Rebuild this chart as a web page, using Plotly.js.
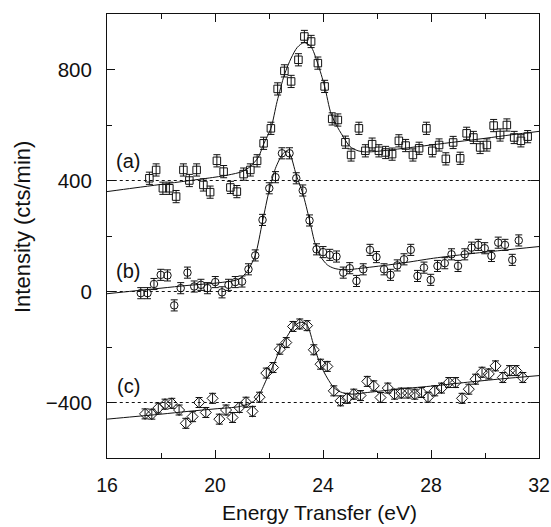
<!DOCTYPE html>
<html>
<head>
<meta charset="utf-8">
<script src="https://cdn.plot.ly/plotly-3.0.1.min.js"></script>
<style>html,body{margin:0;padding:0;background:#fff;}#chart{width:551px;height:527px;}</style>
</head>
<body>
<div id="chart"></div>
<script>
// Series (a): squares
var xA = [17.57,17.82,18.07,18.31,18.56,18.83,19.05,19.32,19.57,19.82,20.07,20.32,20.57,20.81,21.06,21.31,21.56,21.80,22.07,22.32,22.57,22.82,23.09,23.31,23.56,23.81,24.06,24.34,24.55,24.83,25.04,25.33,25.57,25.82,26.07,26.32,26.56,26.81,27.06,27.33,27.56,27.83,28.05,28.30,28.55,28.82,29.08,29.32,29.57,29.82,30.07,30.32,30.56,30.81,31.08,31.33,31.58];
var yA = [408,438,372,372,342,438,400,438,384,358,471,432,375,360,423,438,471,534,588,730,795,757,835,919,901,823,739,622,618,538,492,588,507,531,507,501,495,543,526,492,516,588,507,528,478,537,480,570,555,519,528,598,564,600,555,543,558];
// Series (b): circles
var xB = [17.25,17.50,17.74,17.99,18.24,18.49,18.73,18.98,19.23,19.48,19.72,20.01,20.26,20.50,20.75,21.0,21.24,21.49,21.76,22.01,22.24,22.48,22.76,23.01,23.25,23.50,23.76,24.0,24.25,24.50,24.75,24.99,25.24,25.49,25.74,25.98,26.26,26.50,26.75,27.0,27.25,27.50,27.74,27.99,28.24,28.51,28.76,29.0,29.25,29.50,29.75,29.99,30.24,30.49,30.74,31.01,31.25];
var yB = [-6,-6,27,60,58,-50,12,68,18,24,12,34,-3,24,34,36,80,130,258,372,412,498,498,408,364,256,152,142,132,126,68,84,38,80,150,124,80,60,94,116,150,56,86,42,92,102,134,92,134,158,168,156,128,176,168,114,184];
// Series (c): diamonds
var xC = [17.41,17.66,17.90,18.15,18.40,18.67,18.92,19.17,19.41,19.66,19.91,20.16,20.41,20.65,20.90,21.15,21.39,21.65,21.90,22.15,22.40,22.64,22.89,23.14,23.41,23.66,23.91,24.16,24.40,24.65,24.90,25.14,25.39,25.64,25.88,26.13,26.40,26.65,26.90,27.15,27.40,27.65,27.89,28.14,28.39,28.66,28.91,29.15,29.40,29.65,29.89,30.14,30.39,30.66,30.91,31.15,31.40];
var yC = [-441,-442,-420,-406,-403,-427,-475,-451,-400,-436,-385,-460,-427,-454,-418,-399,-432,-381,-294,-274,-208,-184,-126,-117,-123,-210,-262,-270,-358,-394,-385,-370,-375,-324,-340,-382,-348,-370,-366,-366,-370,-364,-381,-358,-348,-328,-328,-385,-352,-316,-291,-297,-268,-310,-285,-285,-310];

// Fit curves
var fitXA = [16,17,18,19,20,20.5,21,21.3,21.6,21.8,22.07,22.3,22.57,22.82,23.05,23.3,23.55,23.8,24.06,24.3,24.55,24.8,25.0,25.3,25.6,26,27,28,29,30,31,32];
var fitYA = [360,373,386,399,412,420,432,450,483,531,588,685,781,841,880,897,883,823,739,640,590,550,522,507,503,505,516,528,540,552,565,577];
var fitXB = [16,17,18,19,20,20.5,20.75,21.0,21.24,21.49,21.76,22.01,22.24,22.48,22.62,22.76,23.01,23.25,23.5,23.72,23.91,24.16,24.4,24.77,25.6,26.9,28.1,29.35,30.6,32];
var fitYB = [-8,2,12,22,30,36,40,52,80,130,252,366,444,492,505,498,420,354,258,168,126,96,84,78,86,102,120,135,148,162];
var fitXC = [16,17,18,19,20,20.94,21.43,21.65,21.93,22.17,22.42,22.67,22.92,23.16,23.4,23.66,23.91,24.16,24.4,24.65,25.02,25.64,26.88,28.11,29.35,30.59,32];
var fitYC = [-460,-451,-442,-432,-423,-414,-396,-370,-312,-264,-204,-162,-126,-111,-120,-195,-265,-312,-346,-362,-370,-364,-351,-340,-327,-315,-303];

var baselines = [400, 0, -400];
var labels = ['(a)', '(b)', '(c)'];
var labelY = [470, 73, -340];
var errA = 22, errB = 20, errC = 18;

var ink = '#111';
function pts(x, y, sym, sz, err) {
  return {x: x, y: y, type: 'scatter', mode: 'markers',
    marker: {symbol: sym, size: sz, color: ink, line: {color: ink, width: 1}},
    error_y: {type: 'constant', value: err, color: ink, thickness: 1, width: 3.5},
    showlegend: false, hoverinfo: 'x+y'};
}
function fit(x, y) {
  return {x: x, y: y, type: 'scatter', mode: 'lines',
    line: {color: ink, width: 1, shape: 'spline', smoothing: 0.8},
    showlegend: false, hoverinfo: 'skip'};
}
var data = [fit(fitXA, fitYA), fit(fitXB, fitYB), fit(fitXC, fitYC),
  pts(xA, yA, 'square-open', 7.5, errA), pts(xB, yB, 'circle-open', 7.5, errB), pts(xC, yC, 'diamond-open', 8.5, errC)];

var shapes = baselines.map(function (b) {
  return {type: 'line', xref: 'x', yref: 'y', x0: 16.25, x1: 32, y0: b, y1: b,
    line: {color: ink, width: 1, dash: 'dot'}, layer: 'below'};
});
var fontFam = 'Liberation Sans, Arial, Helvetica, sans-serif';
var annotations = labels.map(function (t, i) {
  return {text: t, x: 16.78, y: labelY[i], xref: 'x', yref: 'y', showarrow: false,
    xanchor: 'center', yanchor: 'middle', font: {family: fontFam, size: 20, color: ink}};
});
annotations.push({text: 'Intensity (cts/min)', xref: 'paper', yref: 'paper', x: -0.197, y: 0.52,
  textangle: -90, showarrow: false, xanchor: 'center', yanchor: 'middle',
  font: {family: fontFam, size: 22, color: ink}});
annotations.push({text: 'Energy Transfer (eV)', xref: 'paper', yref: 'paper', x: 0.493, y: -0.122,
  showarrow: false, xanchor: 'center', yanchor: 'middle',
  font: {family: fontFam, size: 21, color: ink}});

var axisCommon = {showline: true, linecolor: ink, linewidth: 1, mirror: 'ticks', ticks: 'inside',
  ticklen: 8, tickwidth: 1, tickcolor: ink, showgrid: false, zeroline: false};
var layout = {
  width: 551, height: 527,
  margin: {l: 107, r: 12, t: 14, b: 69},
  paper_bgcolor: '#fff', plot_bgcolor: '#fff',
  xaxis: Object.assign({}, axisCommon, {range: [16, 32], tick0: 16, dtick: 4,
    tickfont: {family: fontFam, size: 19.5, color: ink},
    minor: {dtick: 2, ticks: 'inside', ticklen: 5, tickcolor: ink}, ticklabelstandoff: 10}),
  yaxis: Object.assign({}, axisCommon, {range: [-600, 1000], tick0: 0, dtick: 400,
    tickfont: {family: fontFam, size: 20.5, color: ink},
    minor: {dtick: 200, ticks: 'inside', ticklen: 5, tickcolor: ink}, ticklabelstandoff: 10}),
  shapes: shapes,
  annotations: annotations
};
Plotly.newPlot('chart', data, layout, {displayModeBar: false, staticPlot: true});
</script>
</body>
</html>
